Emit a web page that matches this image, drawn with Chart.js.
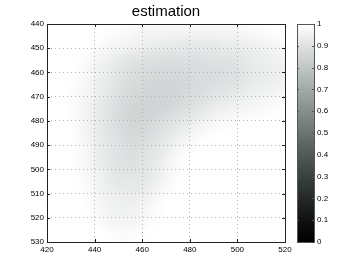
<!DOCTYPE html>
<html>
<head>
<meta charset="utf-8">
<script src="https://cdn.jsdelivr.net/npm/chart.js@4/dist/chart.umd.min.js"></script>
<style>
  html, body { margin: 0; padding: 0; background: #fff; }
  #wrap { position: relative; width: 362px; height: 273px; }
  canvas { position: absolute; top: 0; }
</style>
</head>
<body>
<div id="wrap">
  <canvas id="heat" width="362" height="273" style="left:0"></canvas>
  <canvas id="bar" width="72" height="273" style="left:290px"></canvas>
</div>
<script>
// grid of the estimate (x columns, y rows)
const xValues = [420, 425, 430, 435, 440, 445, 450, 455, 460, 465, 470, 475, 480, 485, 490, 495, 500, 505, 510, 515, 520];
const yValues = [440, 445, 450, 455, 460, 465, 470, 475, 480, 485, 490, 495, 500, 505, 510, 515, 520, 525, 530];
const density = [
  [1, 1, 1, 1, 1, 1, 1, 0.99, 0.98, 0.98, 0.98, 0.98, 0.98, 0.98, 0.98, 0.98, 0.98, 0.99, 0.99, 1, 1],
  [1, 1, 1, 1, 1, 0.99, 0.98, 0.97, 0.96, 0.96, 0.96, 0.95, 0.95, 0.95, 0.95, 0.96, 0.96, 0.97, 0.98, 0.99, 0.99],
  [1, 1, 1, 1, 0.99, 0.97, 0.96, 0.95, 0.94, 0.93, 0.92, 0.92, 0.92, 0.92, 0.92, 0.93, 0.93, 0.94, 0.95, 0.96, 0.97],
  [1, 1, 1, 0.99, 0.97, 0.95, 0.93, 0.91, 0.90, 0.89, 0.89, 0.89, 0.89, 0.89, 0.90, 0.90, 0.91, 0.93, 0.94, 0.95, 0.96],
  [1, 1, 1, 0.98, 0.96, 0.94, 0.91, 0.89, 0.88, 0.87, 0.87, 0.87, 0.88, 0.88, 0.88, 0.89, 0.90, 0.92, 0.93, 0.94, 0.95],
  [1, 1, 0.99, 0.98, 0.95, 0.93, 0.90, 0.88, 0.87, 0.86, 0.86, 0.86, 0.87, 0.88, 0.89, 0.90, 0.91, 0.93, 0.94, 0.95, 0.96],
  [1, 1, 0.99, 0.97, 0.95, 0.92, 0.89, 0.87, 0.86, 0.85, 0.85, 0.86, 0.88, 0.89, 0.91, 0.92, 0.94, 0.95, 0.96, 0.97, 0.98],
  [1, 1, 0.99, 0.97, 0.94, 0.91, 0.88, 0.86, 0.85, 0.85, 0.86, 0.88, 0.90, 0.92, 0.94, 0.95, 0.96, 0.97, 0.98, 0.99, 1],
  [1, 1, 0.99, 0.97, 0.94, 0.91, 0.88, 0.86, 0.86, 0.87, 0.89, 0.91, 0.93, 0.95, 0.97, 0.98, 0.99, 1, 1, 1, 1],
  [1, 1, 1, 0.97, 0.94, 0.91, 0.89, 0.87, 0.87, 0.89, 0.91, 0.94, 0.96, 0.98, 0.99, 1, 1, 1, 1, 1, 1],
  [1, 1, 1, 0.98, 0.95, 0.92, 0.90, 0.88, 0.89, 0.91, 0.93, 0.96, 0.98, 1, 1, 1, 1, 1, 1, 1, 1],
  [1, 1, 1, 0.98, 0.95, 0.92, 0.90, 0.89, 0.90, 0.92, 0.95, 0.98, 1, 1, 1, 1, 1, 1, 1, 1, 1],
  [1, 1, 1, 0.98, 0.96, 0.93, 0.91, 0.90, 0.91, 0.93, 0.96, 0.99, 1, 1, 1, 1, 1, 1, 1, 1, 1],
  [1, 1, 1, 0.99, 0.97, 0.94, 0.92, 0.92, 0.92, 0.94, 0.97, 1, 1, 1, 1, 1, 1, 1, 1, 1, 1],
  [1, 1, 1, 0.99, 0.97, 0.95, 0.94, 0.93, 0.94, 0.96, 0.99, 1, 1, 1, 1, 1, 1, 1, 1, 1, 1],
  [1, 1, 1, 1, 0.98, 0.96, 0.95, 0.95, 0.96, 0.98, 1, 1, 1, 1, 1, 1, 1, 1, 1, 1, 1],
  [1, 1, 1, 1, 0.99, 0.97, 0.96, 0.96, 0.97, 0.99, 1, 1, 1, 1, 1, 1, 1, 1, 1, 1, 1],
  [1, 1, 1, 1, 1, 0.99, 0.98, 0.98, 0.99, 1, 1, 1, 1, 1, 1, 1, 1, 1, 1, 1, 1],
  [1, 1, 1, 1, 1, 1, 0.99, 0.99, 1, 1, 1, 1, 1, 1, 1, 1, 1, 1, 1, 1, 1]
];
const xTicks = [420, 440, 460, 480, 500, 520];
const yTicks = [440, 450, 460, 470, 480, 490, 500, 510, 520, 530];
const cbTicks = [0, 0.1, 0.2, 0.3, 0.4, 0.5, 0.6, 0.7, 0.8, 0.9, 1];

const font = { family: 'Liberation Sans, Arial, sans-serif', size: 8 };

// grey colormap with a slight cyan cast
function shade(v) {
  const g = 255 * Math.pow(v, 1.15);
  const r = g * (0.88 + 0.12 * v);
  return [Math.round(r), Math.round(g), Math.round(g)];
}

function setTicks(list) {
  return s => { s.ticks = list.map(v => ({ value: v })); };
}

const heatmap = {
  id: 'heatmap',
  beforeDatasetsDraw(chart) {
    const { ctx, chartArea, scales: { x, y } } = chart;
    const off = document.createElement('canvas');
    off.width = xValues.length;
    off.height = yValues.length;
    const octx = off.getContext('2d');
    const img = octx.createImageData(off.width, off.height);
    density.forEach((row, j) => row.forEach((v, i) => {
      const c = shade(v);
      img.data.set([c[0], c[1], c[2], 255], (j * off.width + i) * 4);
    }));
    octx.putImageData(img, 0, 0);
    const hx = (xValues[1] - xValues[0]) / 2;
    const hy = (yValues[1] - yValues[0]) / 2;
    const x0 = x.getPixelForValue(xValues[0] - hx);
    const x1 = x.getPixelForValue(xValues[xValues.length - 1] + hx);
    const y0 = y.getPixelForValue(yValues[0] - hy);
    const y1 = y.getPixelForValue(yValues[yValues.length - 1] + hy);
    ctx.save();
    ctx.beginPath();
    ctx.rect(chartArea.left, chartArea.top, chartArea.right - chartArea.left, chartArea.bottom - chartArea.top);
    ctx.clip();
    ctx.imageSmoothingEnabled = true;
    ctx.imageSmoothingQuality = 'high';
    ctx.drawImage(off, x0, y0, x1 - x0, y1 - y0);
    ctx.restore();
  },
  afterDraw(chart) {
    const { ctx, chartArea: a, scales: { x, y } } = chart;
    ctx.save();
    ctx.strokeStyle = '#222';
    ctx.lineWidth = 1;
    ctx.beginPath();
    x.ticks.forEach(t => {
      const px = Math.round(x.getPixelForValue(t.value)) + 0.5;
      ctx.moveTo(px, a.bottom); ctx.lineTo(px, a.bottom - 3);
      ctx.moveTo(px, a.top); ctx.lineTo(px, a.top + 3);
    });
    y.ticks.forEach(t => {
      const py = Math.round(y.getPixelForValue(t.value)) + 0.5;
      ctx.moveTo(a.left, py); ctx.lineTo(a.left + 3, py);
      ctx.moveTo(a.right, py); ctx.lineTo(a.right - 3, py);
    });
    ctx.stroke();
    ctx.strokeRect(Math.round(a.left) + 0.5, Math.round(a.top) + 0.5, Math.round(a.right - a.left), Math.round(a.bottom - a.top));
    ctx.restore();
  }
};

new Chart(document.getElementById('heat'), {
  type: 'scatter',
  data: { datasets: [] },
  plugins: [heatmap],
  options: {
    responsive: false,
    animation: false,
    layout: { padding: { left: 3, right: 77, top: 0, bottom: 18 } },
    plugins: {
      legend: { display: false },
      tooltip: { enabled: false },
      title: {
        display: true,
        text: 'estimation',
        fullSize: false,
        color: '#000',
        font: { family: 'Liberation Sans, Arial, sans-serif', size: 15, weight: 'normal' },
        padding: { top: 3, bottom: 3 }
      }
    },
    scales: {
      x: {
        type: 'linear',
        min: 420,
        max: 520,
        afterBuildTicks: setTicks(xTicks),
        afterFit: s => { s.height = 13; },
        ticks: { font, color: '#000', padding: 3, maxRotation: 0, callback: v => String(v) },
        grid: { color: '#b4b4b4', drawTicks: false, z: 1 },
        border: { display: false, dash: [1, 3] }
      },
      y: {
        type: 'linear',
        reverse: true,
        min: 440,
        max: 530,
        afterBuildTicks: setTicks(yTicks),
        afterFit: s => { s.width = 44; },
        ticks: { font, color: '#000', padding: 3, callback: v => String(v) },
        grid: { color: '#b4b4b4', drawTicks: false, z: 1 },
        border: { display: false, dash: [1, 3] }
      }
    }
  }
});

const colorbar = {
  id: 'colorbar',
  beforeDatasetsDraw(chart) {
    const { ctx, chartArea: a, scales: { y } } = chart;
    for (let py = Math.floor(a.top); py < a.bottom; py++) {
      const v = Math.min(1, Math.max(0, y.getValueForPixel(py + 0.5)));
      const c = shade(v);
      ctx.fillStyle = 'rgb(' + c.join(',') + ')';
      ctx.fillRect(a.left, py, a.right - a.left, 1);
    }
  },
  afterDraw(chart) {
    const { ctx, chartArea: a, scales: { y } } = chart;
    ctx.save();
    ctx.strokeStyle = '#555';
    ctx.lineWidth = 1;
    ctx.beginPath();
    y.ticks.forEach(t => {
      const py = Math.round(y.getPixelForValue(t.value)) + 0.5;
      ctx.moveTo(a.left, py); ctx.lineTo(a.left + 2, py);
      ctx.moveTo(a.right, py); ctx.lineTo(a.right - 2, py);
    });
    ctx.stroke();
    ctx.strokeRect(Math.round(a.left) + 0.5, Math.round(a.top) + 0.5, Math.round(a.right - a.left), Math.round(a.bottom - a.top));
    ctx.restore();
  }
};

new Chart(document.getElementById('bar'), {
  type: 'scatter',
  data: { datasets: [] },
  plugins: [colorbar],
  options: {
    responsive: false,
    animation: false,
    layout: { padding: { left: 7, right: 0, top: 24, bottom: 31 } },
    plugins: { legend: { display: false }, tooltip: { enabled: false } },
    scales: {
      x: { type: 'linear', display: false, min: 0, max: 1 },
      y: {
        type: 'linear',
        position: 'right',
        min: 0,
        max: 1,
        afterBuildTicks: setTicks(cbTicks),
        afterFit: s => { s.width = 48; },
        ticks: { font, color: '#000', padding: 3, callback: v => String(v) },
        grid: { display: false, drawTicks: false },
        border: { display: false }
      }
    }
  }
});
</script>
</body>
</html>
